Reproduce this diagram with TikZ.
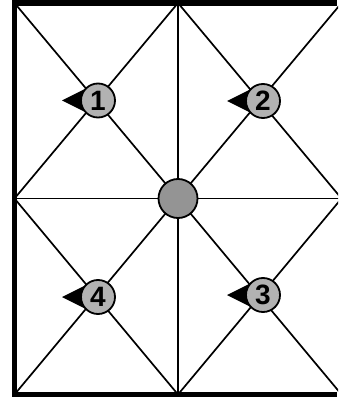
\documentclass[tikz,border=0pt]{standalone}
\usepackage{fontspec}
\setmainfont{Liberation Sans}
\usetikzlibrary{calc}
\begin{document}
\begin{tikzpicture}[x=1pt,y=-1pt,
  frame/.style={line width=5.5pt,line join=miter,line cap=butt},
  thin/.style={line width=1.7pt},
  badge/.style={circle,draw=black,line width=1.8pt,fill=black!30,minimum size=34pt,inner sep=0pt,
    font=\fontsize{28}{28}\selectfont\bfseries},
  hub/.style={circle,draw=black,line width=1.8pt,fill=black!42,minimum size=39pt,inner sep=0pt},
  pointer/.style={fill=black}]
\fill[white] (0,0) rectangle (338,398);
\useasboundingbox (0,0) rectangle (338,398);
\begin{scope}
\clip (0,0) rectangle (338,398);
% frame corners
\coordinate (tl) at (14.5,3);
\coordinate (tm) at (178,3);
\coordinate (tr) at (341.5,3);
\coordinate (ml) at (14.5,198.5);
\coordinate (mm) at (178,198.5);
\coordinate (mr) at (341.5,198.5);
\coordinate (bl) at (14.5,394.5);
\coordinate (bm) at (178,394.5);
\coordinate (br) at (341.5,394.5);
\coordinate (tx) at (337,3);
\coordinate (bx) at (337,394.5);
% grid lines
\draw[thin] (tm) -- (bm);
\draw[thin] (ml) -- (mr);
\draw[thin] (tl) -- (mm) -- (br);
\draw[thin] (tr) -- (mm) -- (bl);
\draw[thin] (ml) -- (tm) -- (mr) -- (bm) -- cycle;
\end{scope}
\draw[frame] (tx) -- (tl) -- (bl) -- (bx);
% badge centers
\coordinate (c1) at (98,100.5);
\coordinate (c2) at (263,101);
\coordinate (c3) at (263,295);
\coordinate (c4) at (98,297);
% pointers
\foreach \c in {c1,c2,c3,c4}{
  \fill[pointer] ($(\c)+(-36,0)$) -- ($(\c)+(-7,-14.5)$) -- ($(\c)+(-7,14.5)$) -- cycle;
}
\node[badge] (n1) at (c1) {1};
\node[badge] (n2) at (c2) {2};
\node[badge] (n3) at (c3) {3};
\node[badge] (n4) at (c4) {4};
\node[hub] (h) at (mm) {};
\end{tikzpicture}
\end{document}
